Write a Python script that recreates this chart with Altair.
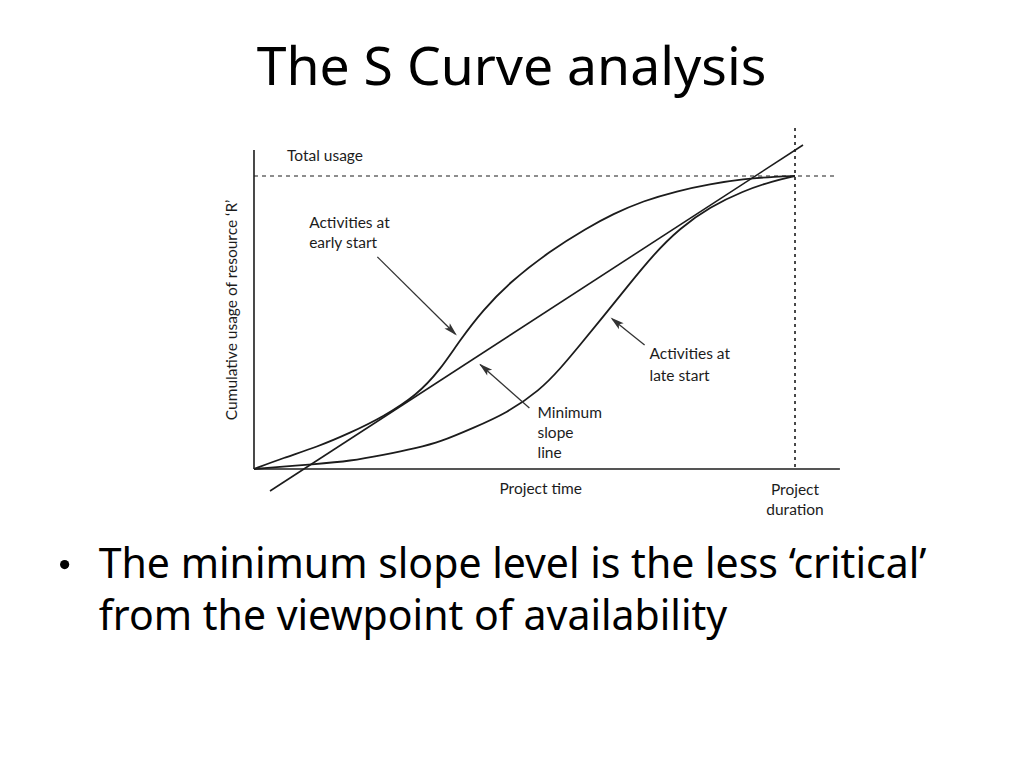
import altair as alt
import pandas as pd

# ---- data (time as fraction of project duration, usage as fraction of total usage) ----
early_t = [0.0, 0.0536, 0.1165, 0.1774, 0.2384, 0.3013, 0.3438, 0.3808, 0.4233, 0.4732,
           0.5471, 0.6155, 0.6636, 0.7190, 0.7819, 0.8429, 0.9039, 0.9667, 1.0]
early_r = [0.0, 0.0375, 0.0751, 0.1229, 0.1775, 0.2526, 0.3379, 0.4403, 0.5427, 0.6382,
           0.7440, 0.8225, 0.8703, 0.9147, 0.9488, 0.9727, 0.9898, 0.9983, 1.0]

late_t = [0.0, 0.1165, 0.1774, 0.2384, 0.3013, 0.3438, 0.4048, 0.4677, 0.5287, 0.5656,
          0.6026, 0.6433, 0.6895, 0.7375, 0.7874, 0.8429, 0.9039, 0.9593, 1.0]
late_r = [0.0, 0.0171, 0.0273, 0.0478, 0.0717, 0.0922, 0.1399, 0.1911, 0.2696, 0.3413,
          0.4232, 0.5154, 0.6212, 0.7304, 0.8225, 0.8942, 0.9488, 0.9829, 1.0]

minslope_t = [0.0296, 1.0148]
minslope_r = [-0.0751, 1.1058]

total_usage = 1.0
project_duration = 1.0

# scale domains (units -> whole view)
X_DOM = [-0.4547, 1.3937]
Y_DOM = [-0.9693, 1.5734]
W, H = 1000, 745

xs = alt.Scale(domain=X_DOM, nice=False, zero=False)
ys = alt.Scale(domain=Y_DOM, nice=False, zero=False)
X = lambda f="t": alt.X(f"{f}:Q", scale=xs, axis=None)
Y = lambda f="r": alt.Y(f"{f}:Q", scale=ys, axis=None)
X2 = lambda f: alt.X2(f"{f}:Q")
Y2 = lambda f: alt.Y2(f"{f}:Q")

INK = "#1c1c1c"
LAB_FONT = "Lato"
LAB_SIZE = 15.5

def curve(t, r):
    df = pd.DataFrame({"t": t, "r": r})
    return alt.Chart(df).mark_line(color=INK, strokeWidth=1.8, interpolate="basis").encode(
        x=X(), y=Y(), order="t:Q")

early = curve(early_t, early_r)
late = curve(late_t, late_r)
minslope = alt.Chart(pd.DataFrame({"t": minslope_t, "r": minslope_r})).mark_line(
    color=INK, strokeWidth=1.6).encode(x=X(), y=Y())

# axes
axes_df = pd.DataFrame({
    "t": [0.0, 0.0], "r": [1.089, 0.0], "t2": [0.0, 1.083], "r2": [0.0, 0.0]})
axes = alt.Chart(axes_df).mark_rule(color=INK, strokeWidth=1.6).encode(
    x=X("t"), y=Y("r"), x2=X2("t2"), y2=Y2("r2"))

hline = alt.Chart(pd.DataFrame({"t": [0.0], "t2": [1.074], "r": [total_usage]})).mark_rule(
    color=INK, strokeWidth=1.2, strokeDash=[4, 4]).encode(x=X("t"), x2=X2("t2"), y=Y("r"))
vline = alt.Chart(pd.DataFrame({"t": [project_duration], "r": [1.164], "r2": [0.0]})).mark_rule(
    color=INK, strokeWidth=1.6, strokeDash=[3, 4]).encode(x=X("t"), y=Y("r"), y2=Y2("r2"))

# arrows
arr_t = [0.228, 0.722, 0.509]
arr_r = [0.724, 0.423, 0.208]
arr_t2 = [0.372, 0.662, 0.418]
arr_r2 = [0.461, 0.512, 0.357]
head_t = [0.366, 0.669, 0.426]
head_r = [0.472, 0.502, 0.344]
head_angle = [135, 309, 311]
arrows = alt.Chart(pd.DataFrame({"t": arr_t, "r": arr_r, "t2": arr_t2, "r2": arr_r2})).mark_rule(
    color="#333333", strokeWidth=1.3).encode(x=X("t"), y=Y("r"), x2=X2("t2"), y2=Y2("r2"))
heads = alt.Chart(pd.DataFrame({"t": head_t, "r": head_r, "a": head_angle})).mark_point(
    shape="M0,-1L0.55,1L0,0.55L-0.55,1Z", filled=True, color="#333333", size=190, opacity=1).encode(
    x=X("t"), y=Y("r"), angle=alt.Angle("a:Q", scale=None))

# chart labels
lab_text = ["Total usage", "Activities at", "early start", "Activities at", "late start",
            "Minimum", "slope", "line"]
lab_t = [0.061, 0.102, 0.102, 0.731, 0.731, 0.524, 0.524, 0.524]
lab_r = [1.051, 0.822, 0.754, 0.375, 0.300, 0.174, 0.106, 0.038]
labels = alt.Chart(pd.DataFrame({"t": lab_t, "r": lab_r, "s": lab_text})).mark_text(
    align="left", baseline="alphabetic", font=LAB_FONT, fontSize=LAB_SIZE, color=INK).encode(
    x=X("t"), y=Y("r"), text="s:N")

clab_text = ["Project time", "Project", "duration"]
clab_t = [0.530, 1.0, 1.0]
clab_r = [-0.085, -0.089, -0.157]
clabels = alt.Chart(pd.DataFrame({"t": clab_t, "r": clab_r, "s": clab_text})).mark_text(
    align="center", baseline="alphabetic", font=LAB_FONT, fontSize=LAB_SIZE, color=INK).encode(
    x=X("t"), y=Y("r"), text="s:N")

ytitle = alt.Chart(pd.DataFrame({"t": [-0.041], "r": [0.543], "s": ["Cumulative usage of resource \u2018R\u2019"]})).mark_text(
    align="center", baseline="middle", angle=270, font=LAB_FONT, fontSize=LAB_SIZE, color=INK).encode(
    x=X("t"), y=Y("r"), text="s:N")

# slide title and bullet
title = alt.Chart(pd.DataFrame({"t": [0.476], "r": [1.311], "s": ["The S Curve analysis"]})).mark_text(
    align="center", baseline="alphabetic", font="Noto Sans", fontSize=53.5, color="#000000").encode(
    x=X("t"), y=Y("r"), text="s:N")

bullet_text = ["The minimum slope level is the less \u2018critical\u2019", "from the viewpoint of availability"]
bullet_t = [-0.287, -0.287]
bullet_r = [-0.372, -0.549]
bullets = alt.Chart(pd.DataFrame({"t": bullet_t, "r": bullet_r, "s": bullet_text})).mark_text(
    align="left", baseline="alphabetic", font="Noto Sans", fontSize=41, color="#000000").encode(
    x=X("t"), y=Y("r"), text="s:N")
dot = alt.Chart(pd.DataFrame({"t": [-0.350], "r": [-0.326]})).mark_point(
    shape="circle", filled=True, color="#000000", size=85, opacity=1).encode(x=X("t"), y=Y("r"))

chart = alt.layer(axes, hline, vline, early, late, minslope, arrows, heads,
                  labels, clabels, ytitle, title, bullets, dot).properties(
    width=W, height=H, autosize=alt.AutoSizeParams(type="none"), padding=0
).configure(background="white", view=alt.ViewConfig(stroke=None))

chart.save("out.html", embed_options={"renderer": "svg", "actions": False})
